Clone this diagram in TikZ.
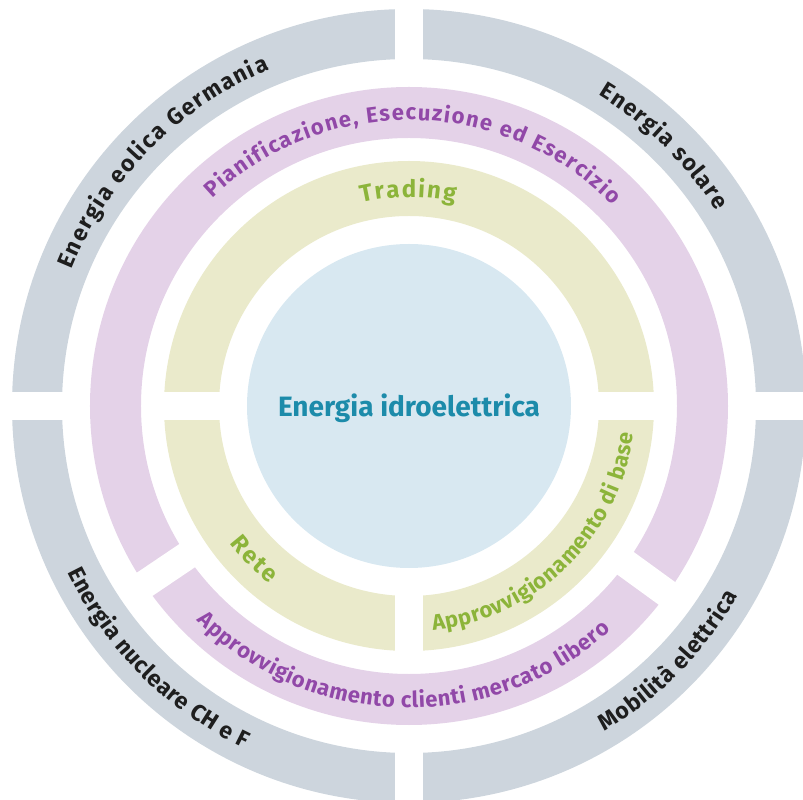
\documentclass[tikz,border=0pt]{standalone}
\usepackage{fontspec}
\setmainfont{Fira Sans}
\usetikzlibrary{decorations.text}
\definecolor{grayband}{HTML}{CDD5DD}
\definecolor{purpleband}{HTML}{E4D2E8}
\definecolor{yellowband}{HTML}{EAEACB}
\definecolor{blueband}{HTML}{D8E8F1}
\definecolor{darktext}{HTML}{1E1E1E}
\definecolor{purpletext}{HTML}{9148A8}
\definecolor{greentext}{HTML}{8CB43A}
\definecolor{bluetext}{HTML}{1C8BAA}
\newcommand\graytxt{\bfseries\fontsize{23}{27}\selectfont\color{darktext}}
\newcommand\purpletxt{\bfseries\fontsize{22}{26}\selectfont\color{purpletext}}
\newcommand\greentxt{\bfseries\fontsize{22}{26}\selectfont\color{greentext}}
\newcommand\greenbig{\bfseries\fontsize{24}{28}\selectfont\color{greentext}}

\tikzset{
  ring/.style={even odd rule},
  cut/.style={white, line width=28pt},
  arclabel/.style={decorate, decoration={text along path, text align={fit to path}}},
}

\begin{document}
\begin{tikzpicture}[x=1pt,y=1pt]
    \useasboundingbox (-409,-394) rectangle (394,406);
    % Anelli
    \fill[grayband, ring] (0,0) circle (397) (0,0) circle (347);
    \fill[purpleband, ring] (0,0) circle (319) (0,0) circle (268);
    \fill[yellowband, ring] (0,0) circle (245) (0,0) circle (190);

    % Tagli bianchi
    \foreach \a in {0,90,180,270} {
        \draw[cut] (\a:340) -- (\a:402);
    }
    \foreach \a in {214,324} {
        \draw[cut] (\a:260) -- (\a:326);
    }
    \foreach \a in {0,180,270} {
        \draw[cut] (\a:183) -- (\a:251);
    }

    % Cerchio centrale
    \fill[blueband] (0,0) circle (162);
    \node[anchor=base, text=bluetext, font=\bfseries\fontsize{28}{32}\selectfont] (hydro) at (0,-11) {Energia idroelettrica};

    % Anello grigio
    \path[arclabel, decoration={text={|\graytxt|Energia eolica Germania}}] (158:364) arc[start angle=158, end angle=112.5, radius=364];
    \path[arclabel, decoration={text={|\graytxt|Energia solare}}] (58.7:364) arc[start angle=58.7, end angle=32.4, radius=364];
    \path[arclabel, decoration={text={|\graytxt|Energia nucleare CH e F}}] (206:380) arc[start angle=206, end angle=244.3, radius=380];
    \path[arclabel, decoration={text={|\graytxt|Mobilità elettrica}}] (301:380) arc[start angle=301, end angle=330, radius=380];

    % Anello viola
    \path[arclabel, decoration={text={|\purpletxt|Pianificazione, Esecuzione ed Esercizio}}] (133.5:286) arc[start angle=133.5, end angle=44.7, radius=286];
    \path[arclabel, decoration={text={|\purpletxt|Approvvigionamento clienti mercato libero}}] (225.3:302) arc[start angle=225.3, end angle=311.9, radius=302];

    % Anello giallo
    \path[arclabel, decoration={text={|\greenbig|Trading}}] (103.2:209) arc[start angle=103.2, end angle=77.3, radius=209];
    \path[arclabel, decoration={text={|\greenbig|Rete}}] (217.5:226) arc[start angle=217.5, end angle=232, radius=226];
    \path[arclabel, decoration={text={|\greentxt|Approvvigionamento di base}}] (276.1:226) arc[start angle=276.1, end angle=353, radius=226];
\end{tikzpicture}
\end{document}
